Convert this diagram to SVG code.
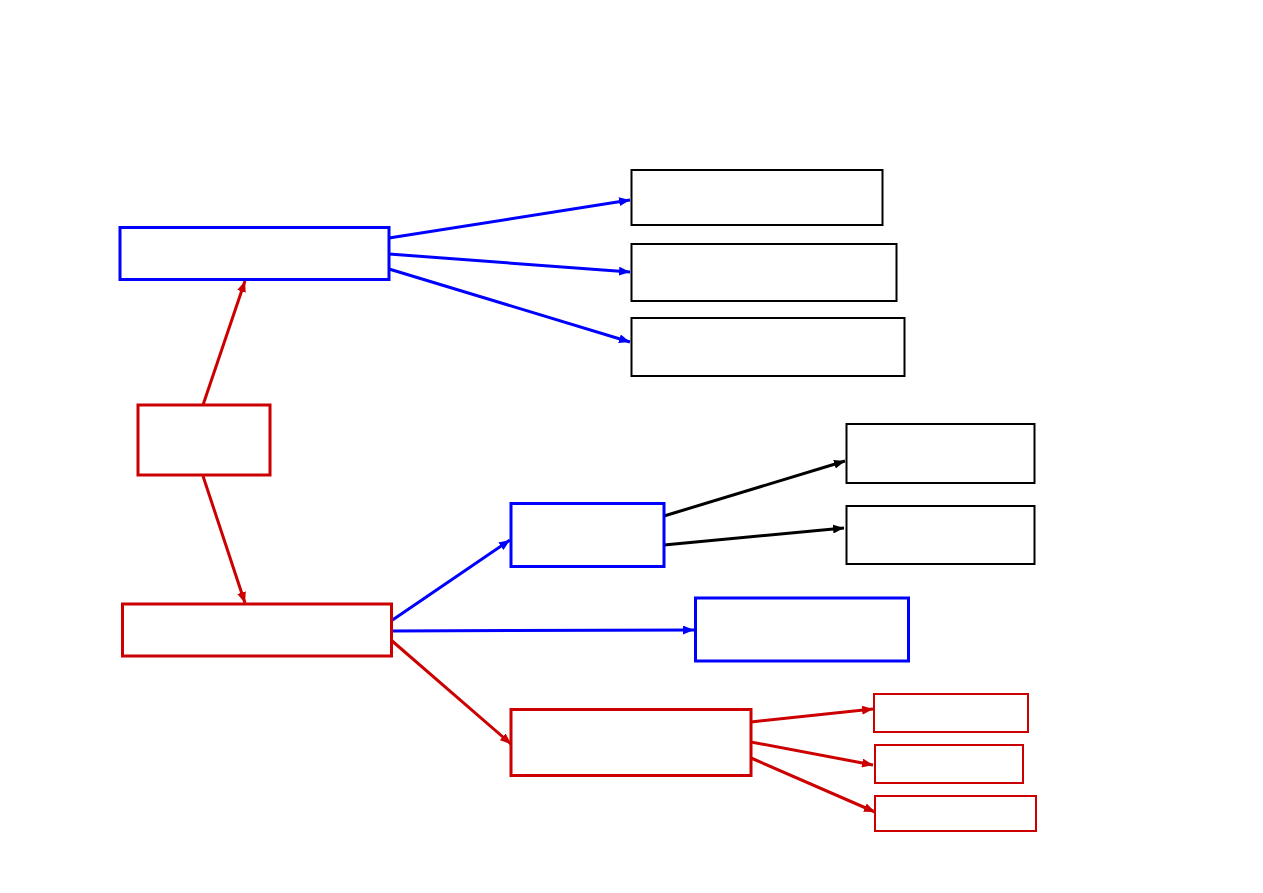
<svg xmlns="http://www.w3.org/2000/svg" width="1263" height="893" viewBox="0 0 1263 893">
<style>
.n{fill:#fff}
.blue{stroke:#0000ff;stroke-width:3}
.red{stroke:#cc0000;stroke-width:3}
.blk{stroke:#000;stroke-width:2}
.red2{stroke:#cc0000;stroke-width:2}
.cb{stroke:#0000ff;stroke-width:3;fill:none}
.cr{stroke:#cc0000;stroke-width:3;fill:none}
.ck{stroke:#000;stroke-width:3;fill:none}
</style>
<defs>
<marker id="mb" viewBox="0 0 11 9" refX="11" refY="4.5" markerWidth="11" markerHeight="9" markerUnits="userSpaceOnUse" orient="auto"><path d="M0,0 L11,4.5 L0,9 Z" fill="#0000ff"/></marker>
<marker id="mr" viewBox="0 0 11 9" refX="11" refY="4.5" markerWidth="11" markerHeight="9" markerUnits="userSpaceOnUse" orient="auto"><path d="M0,0 L11,4.5 L0,9 Z" fill="#cc0000"/></marker>
<marker id="mk" viewBox="0 0 11 9" refX="11" refY="4.5" markerWidth="11" markerHeight="9" markerUnits="userSpaceOnUse" orient="auto"><path d="M0,0 L11,4.5 L0,9 Z" fill="#000"/></marker>
</defs>
<rect width="1263" height="893" fill="#fff"/>
<g id="connectors">
<path class="cr" d="M203,405 L245,281" marker-end="url(#mr)"/>
<path class="cr" d="M203,476 L245,603" marker-end="url(#mr)"/>
<path class="cb" d="M389,238 L630,200" marker-end="url(#mb)"/>
<path class="cb" d="M389,254 L630,272" marker-end="url(#mb)"/>
<path class="cb" d="M389,269 L630,342" marker-end="url(#mb)"/>
<path class="cb" d="M391,621 L510,540" marker-end="url(#mb)"/>
<path class="cb" d="M391,631 L694,630" marker-end="url(#mb)"/>
<path class="cr" d="M391,640 L511,744" marker-end="url(#mr)"/>
<path class="ck" d="M664,516 L845,461" marker-end="url(#mk)"/>
<path class="ck" d="M664,545 L844,528" marker-end="url(#mk)"/>
<path class="cr" d="M751,722 L873,709" marker-end="url(#mr)"/>
<path class="cr" d="M751,742 L873,765" marker-end="url(#mr)"/>
<path class="cr" d="M751,758 L875,812" marker-end="url(#mr)"/>
</g>
<g id="nodeA"><rect class="n blue" x="120" y="227.5" width="269" height="52"/></g>
<g id="nodeB1"><rect class="n blk" x="631.5" y="170" width="251" height="55"/></g>
<g id="nodeB2"><rect class="n blk" x="631.5" y="244" width="265" height="57"/></g>
<g id="nodeB3"><rect class="n blk" x="631.5" y="318" width="273" height="58"/></g>
<g id="nodeC"><rect class="n red" x="138" y="405" width="132" height="70"/></g>
<g id="nodeD"><rect class="n red" x="122.5" y="604" width="269" height="52"/></g>
<g id="nodeE"><rect class="n blue" x="511" y="503.5" width="153" height="63"/></g>
<g id="nodeF1"><rect class="n blk" x="846.5" y="424" width="188" height="59"/></g>
<g id="nodeF2"><rect class="n blk" x="846.5" y="506" width="188" height="58"/></g>
<g id="nodeG"><rect class="n blue" x="695.5" y="598" width="213" height="63"/></g>
<g id="nodeH"><rect class="n red" x="511" y="709.5" width="240" height="66"/></g>
<g id="nodeI1"><rect class="n red2" x="874" y="694" width="154" height="38"/></g>
<g id="nodeI2"><rect class="n red2" x="875" y="745" width="148" height="38"/></g>
<g id="nodeI3"><rect class="n red2" x="875" y="796" width="161" height="35"/></g>
</svg>
